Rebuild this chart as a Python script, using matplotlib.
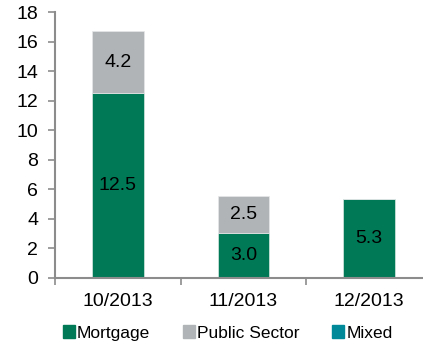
import numpy as np
import matplotlib.pyplot as plt
from matplotlib.patches import Patch

plt.rcParams['font.family'] = ['Liberation Sans', 'DejaVu Sans']

months = ["10/2013", "11/2013", "12/2013"]
mortgage = [12.5, 3.0, 5.3]
public_sector = [4.2, 2.5, 0.0]
mixed = [0.0, 0.0, 0.0]

c_mort = "#007a56"
c_pub = "#b1b4b7"
c_mix = "#008a99"
axis_grey = "#8c8c8c"

fig = plt.figure(figsize=(4.23, 3.44), dpi=100)
ax = fig.add_axes([0.130, 0.193, 0.891, 0.772])

x = np.arange(len(months))
w = 0.41
ax.bar(x, mortgage, w, color=c_mort, edgecolor="#d8e8e0", linewidth=0.5)
ax.bar(x, public_sector, w, bottom=mortgage, color=c_pub, edgecolor="#e4e6e8", linewidth=0.5)
ax.bar(x, mixed, w, bottom=np.add(mortgage, public_sector), color=c_mix)

# value labels in the middle of each segment
for i in range(len(months)):
    if mortgage[i] > 0:
        ax.text(x[i], mortgage[i] / 2, f"{mortgage[i]:.1f}", ha="center", va="center", fontsize=14)
    if public_sector[i] > 0:
        ax.text(x[i], mortgage[i] + public_sector[i] / 2, f"{public_sector[i]:.1f}",
                ha="center", va="center", fontsize=14)

ax.set_xlim(-0.5, 2.5)
ax.set_ylim(0, 18)
ax.set_yticks(range(0, 19, 2))
ax.set_xticks(x)
ax.set_xticklabels(months)
ax.set_xticks([-0.5, 0.5, 1.5, 2.5], minor=True)
ax.tick_params(axis="x", which="major", length=0, pad=11, labelsize=14)
ax.tick_params(axis="x", which="minor", length=5, width=1.2, color=axis_grey, direction="out")
ax.tick_params(axis="y", length=5, width=1.2, color=axis_grey, labelsize=14, pad=7)

for s in ["top", "right"]:
    ax.spines[s].set_visible(False)
for s in ["left", "bottom"]:
    ax.spines[s].set_color(axis_grey)
    ax.spines[s].set_linewidth(1.5)

handles = [Patch(color=c_mort, label="Mortgage"),
           Patch(color=c_pub, label="Public Sector"),
           Patch(color=c_mix, label="Mixed")]
fig.legend(handles=handles, loc="center", bbox_to_anchor=(0.538, 0.032), ncol=3,
           frameon=False, fontsize=12.5, handlelength=0.7, handleheight=0.7,
           handletextpad=0.1, columnspacing=1.9, borderaxespad=0)

fig.savefig("out.png", dpi=100)
